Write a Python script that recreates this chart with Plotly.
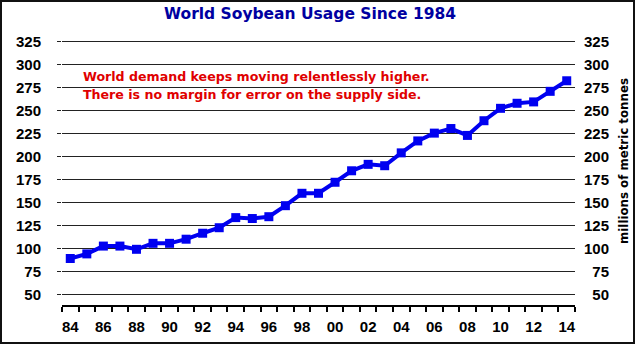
import plotly.graph_objects as go

# World soybean usage, millions of metric tonnes, 1984-2014
years = list(range(1984, 2015))
usage = [89, 94, 102.5, 102.5, 99, 105.5, 105.5, 110, 116.5, 122.5,
         133.5, 132.5, 134.5, 146.5, 160, 160, 172, 184.5, 191.5, 190,
         204, 217, 225.5, 230.5, 223, 239, 252.5, 258, 259.5, 271, 282.5]

x_tick_years = years[::2]
x_tick_labels = ["84", "86", "88", "90", "92", "94", "96", "98",
                 "00", "02", "04", "06", "08", "10", "12", "14"]
y_ticks = list(range(50, 326, 25))

title_text = "World Soybean Usage Since 1984"
note_lines = ["World demand keeps moving relentlessly higher.",
              "There is no margin for error on the supply side."]
unit_text = "millions of metric tonnes"

W, H = 635, 344
L, R, T, B = 62, 26, 37, 39
PW, PH = W - L - R, H - T - B
AXIS_RIGHT = 575           # right end of the x axis, px
Y_MIN = 38.35
Y_RANGE = [Y_MIN, Y_MIN + PH * 25 / 22.96]


def px_x(px):
    return (px - L) / PW


def px_y(py):
    return (H - B - py) / PH


tick_font = dict(family="Liberation Sans", size=15, color="black", weight="bold")

fig = go.Figure()
fig.add_trace(go.Scatter(
    x=years, y=usage, mode="lines+markers",
    line=dict(color="#0000F0", width=4),
    marker=dict(symbol="square", size=9, color="#0000F0"),
    hoverinfo="x+y",
))
# same series on the right-hand axis (invisible) so that axis is drawn
fig.add_trace(go.Scatter(
    x=years, y=usage, yaxis="y2", mode="lines",
    line=dict(color="rgba(0,0,0,0)", width=0),
    hoverinfo="skip",
))

fig.update_layout(
    width=W, height=H,
    margin=dict(l=L, r=R, t=T, b=B, autoexpand=False),
    paper_bgcolor="white", plot_bgcolor="white",
    showlegend=False,
    title=dict(text=title_text, x=px_x(310), xref="paper", xanchor="center",
               y=1 - 14 / H, yref="container", yanchor="middle", automargin=False,
               font=dict(family="DejaVu Sans", size=15.5, color="#0000A0", weight="bold")),
    xaxis=dict(
        domain=[0, (AXIS_RIGHT - L) / PW],
        range=[1983.5, 2014.5], automargin=False,
        tickmode="array", tickvals=x_tick_years, ticktext=x_tick_labels,
        ticks="", showgrid=False, zeroline=False,
        showline=True, linecolor="black", linewidth=2,
        ticklabelstandoff=7,
        tickfont=tick_font,
        minor=dict(tickmode="array", tickvals=[y - 0.5 for y in years] + [2014.5],
                   ticks="outside", ticklen=5, tickwidth=2, tickcolor="black",
                   showgrid=False),
    ),
    yaxis=dict(
        range=Y_RANGE, tickmode="array", tickvals=y_ticks, automargin=False,
        showgrid=True, gridcolor="#222222", gridwidth=1,
        ticks="outside", ticklen=4, tickcolor="#222222", tickwidth=1,
        showline=False, zeroline=False,
        ticklabelstandoff=13,
        tickfont=tick_font,
    ),
    yaxis2=dict(
        range=Y_RANGE, tickmode="array", tickvals=y_ticks, automargin=False,
        overlaying="y", anchor="free", position=1, side="left",
        showgrid=False, ticks="", showline=False, zeroline=False,
        tickfont=tick_font,
    ),
)

# note in red inside the plot area
for text, py in zip(note_lines, [76.7, 95]):
    fig.add_annotation(text=text, xref="paper", yref="paper",
                       x=px_x(81), y=px_y(py), xanchor="left", yanchor="middle",
                       showarrow=False,
                       font=dict(family="DejaVu Sans", size=12.6, color="#E00000", weight="bold"))

# unit label on the right side
fig.add_annotation(text=unit_text, xref="paper", yref="paper",
                   x=px_x(623.5), y=px_y(161.5), textangle=-90,
                   xanchor="center", yanchor="middle", showarrow=False,
                   font=dict(family="DejaVu Sans", size=11.8, color="black", weight="bold"))

# frame around the whole figure
fig.add_shape(type="rect", xref="paper", yref="paper",
              x0=px_x(1), x1=px_x(634), y0=px_y(343), y1=px_y(1),
              line=dict(color="#111111", width=2), fillcolor="rgba(0,0,0,0)")

fig.write_html("out.html")
